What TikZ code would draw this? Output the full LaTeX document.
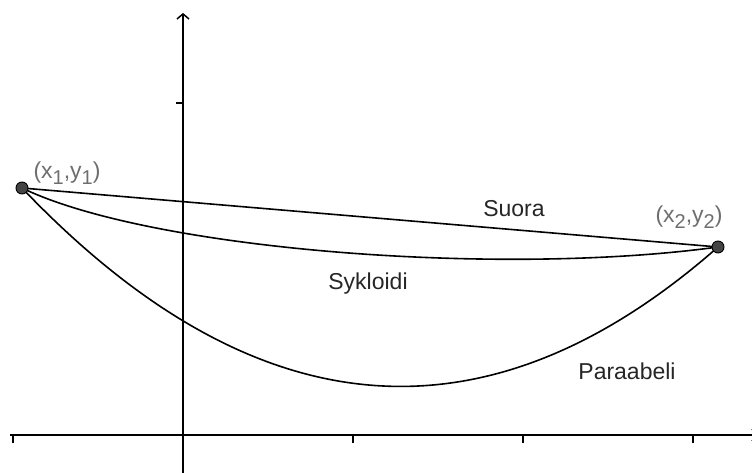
\documentclass[tikz,border=0pt]{standalone}
\usepackage{fontspec}
\setmainfont{Liberation Sans}
\usetikzlibrary{
  positioning,
  arrows.meta
}
\definecolor{bcGray}{HTML}{6E6E6E}
\definecolor{bcDot}{HTML}{444444}
\newcommand{\lowidx}[1]{\raisebox{-0.5ex}{\fontsize{20}{20}\selectfont #1}}

\begin{document}
\begin{tikzpicture}[
  x=1pt, y=-1pt,
  every node/.style={font=\fontsize{23}{26}\selectfont, inner sep=0pt},
  axis/.style={line width=1.6pt, -{Straight Barb[length=5pt, width=12pt, line width=1.5pt]}},
  curve/.style={line width=1.6pt},
  dotpt/.style={circle, draw=black, fill=bcDot, line width=0.9pt, minimum size=12pt},
  ptlabel/.style={text=bcGray},
  curvelabel/.style={text=black!85}
]
 \useasboundingbox (0,0) rectangle (752,473);

 % axes
 \coordinate (xs) at (10,435);
 \coordinate (xe) at (758,435);
 \coordinate (ys) at (183,473);
 \coordinate (ye) at (183,13);
 \draw[axis] (xs) -- (xe);
 \draw[axis] (ys) -- (ye);
 \foreach \tx in {13,183,353,523,693}
   \draw[line width=1.6pt] (\tx,435) -- (\tx,443);
 \draw[line width=1.6pt] (176,103) -- (183,103);

 % end points
 \coordinate (p1) at (22,188);
 \coordinate (p2) at (718,247);

 % the three paths
 \draw[curve] (p1) -- (p2);
 \draw[curve] (p1) .. controls (150,250) and (500,277) .. (p2);
 \draw[curve] (p1) .. controls (254,431) and (486,451) .. (p2);

 \node[dotpt] (d1) at (p1) {};
 \node[dotpt] (d2) at (p2) {};

 % labels
 \node[ptlabel] (l1) at (67,173) {(x\lowidx{1},y\lowidx{1})};
 \node[ptlabel] (l2) at (689,217) {(x\lowidx{2},y\lowidx{2})};
 \node[curvelabel] (suora) at (514,209) {Suora};
 \node[curvelabel] (sykl) at (368,284) {Sykloidi};
 \node[curvelabel] (para) at (627,371) {Paraabeli};
\end{tikzpicture}
\end{document}
